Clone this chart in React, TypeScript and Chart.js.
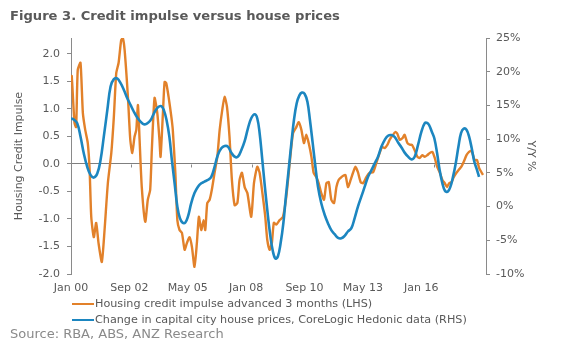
import React, { useEffect, useRef } from 'react';
import { Chart, registerables } from 'chart.js';

Chart.register(...registerables);

const titleText = 'Figure 3. Credit impulse versus house prices';
const sourceText = 'Source: RBA, ABS, ANZ Research';
const leftAxisTitle = 'Housing Credit Impulse';
const rightAxisTitle = 'Y/Y %';
const orangeLabel = 'Housing credit impulse advanced 3 months (LHS)';
const blueLabel = 'Change in capital city house prices, CoreLogic Hedonic data (RHS)';

// months since Jan 2000
const xTickMonths = [0, 32, 64, 96, 128, 160, 192];
const xTickLabels = ['Jan 00', 'Sep 02', 'May 05', 'Jan 08', 'Sep 10', 'May 13', 'Jan 16'];
const zeroTickMonths = [33, 66, 99, 133, 166, 199];
const leftTicks = [-2, -1.5, -1, -0.5, 0, 0.5, 1, 1.5, 2];
const rightTicks = [-10, -5, 0, 5, 10, 15, 20, 25];

const orangeMonths = [0,0.4,1.9,2.8,3.7,5.2,6.5,7.8,9.2,10.2,
  11.1,12.5,13.8,15.1,16.9,18.4,20.2,22.1,23.5,24.8,
  26.1,27.5,28.4,29.4,31.2,32.5,33.6,34.8,35.8,36.7,
  37.6,38.8,40.7,42.1,43.4,44.3,45.8,47.3,48.5,49.1,
  50.4,51.3,52.2,53.5,55,55.8,57.2,58.3,59.5,60.8,
  62.3,63.5,65,66.3,67.7,69,70.1,71.4,72.7,73.6,
  74.7,76,77.2,78.7,80.2,81.5,82.9,84.2,85.5,86.9,
  88.2,89.7,91.2,92.4,93.7,95.2,96.7,98.8,100.3,102.1,
  103.4,105.2,106.5,107.6,108.9,110.1,111.2,112.6,114.4,116.2,
  118,119.9,121.7,123.5,124.8,126.3,127.7,129,130.3,131.8,
  133,134.5,135.8,137.2,138.7,140,141.3,142.7,144.2,145.5,
  146.7,148.2,150.4,151.8,153.3,154.6,155.9,157.3,158.8,160.1,
  161.9,163.7,165.6,167.4,168.8,170.5,172,173.5,174.7,176.5,
  177.8,178.9,180.2,181.7,182.9,184.4,185.7,186.9,188.4,189.9,
  191.2,192.6,193.9,195.3,196.7,198.1,199.4,200.7,202.2,203.6,
  204.9,206.1,207.3,208.6,209.8,211.3,212.7,214,215.3,216.8,
  218.2,219.5,220.4,221.3,222.6,223.7,225,225.9];
const orangeValues = [1.53,1.6,0.75,0.67,1.71,1.84,0.93,0.62,0.38,-0.1,
  -0.96,-1.33,-1.07,-1.44,-1.78,-1.2,-0.35,0.2,0.86,1.65,
  1.84,2.25,2.29,2.07,1.22,0.44,0.2,0.49,0.62,1.07,
  0.44,-0.42,-1.05,-0.65,-0.47,0.25,1.2,0.93,0.44,0.13,
  0.93,1.49,1.47,1.22,0.86,0.62,-0.16,-1.02,-1.2,-1.25,
  -1.56,-1.44,-1.33,-1.51,-1.87,-1.44,-0.96,-1.2,-1.02,-1.2,
  -0.71,-0.65,-0.47,-0.16,0.13,0.62,0.98,1.22,1.04,0.49,
  -0.29,-0.75,-0.71,-0.29,-0.16,-0.42,-0.53,-0.96,-0.35,-0.05,
  -0.16,-0.6,-0.96,-1.38,-1.56,-1.44,-1.07,-1.1,-1.02,-0.96,
  -0.6,0.02,0.56,0.67,0.76,0.62,0.38,0.53,0.38,0.13,
  -0.16,-0.24,-0.35,-0.53,-0.65,-0.35,-0.33,-0.65,-0.71,-0.42,
  -0.29,-0.24,-0.2,-0.42,-0.29,-0.16,-0.05,-0.15,-0.33,-0.35,
  -0.24,-0.16,-0.15,0.02,0.16,0.31,0.29,0.35,0.44,0.53,
  0.58,0.55,0.44,0.47,0.53,0.38,0.35,0.35,0.25,0.13,
  0.11,0.16,0.13,0.16,0.2,0.22,0.11,-0.05,-0.16,-0.29,
  -0.35,-0.42,-0.35,-0.33,-0.24,-0.16,-0.1,-0.05,0.04,0.16,
  0.22,0.24,0.16,0.07,0.07,-0.07,-0.15,-0.2];

const blueMonths = [0,1.5,3.4,5.2,7,8.9,10.7,12.5,14.4,16.2,
  18,19.9,21.7,23.5,25.3,27.2,29,30.8,32.6,34.4,
  36.3,38.1,39.9,41.8,43.6,45.4,47.6,49.5,50.9,52.4,
  53.9,55.3,56.8,58.3,59.7,61.2,62.6,64.1,65.9,67.7,
  69.6,71.4,73.2,75,76.9,78.7,80.5,82.4,84.2,86,
  87.9,89.7,91.5,93.4,95.2,97,98.8,100.7,102.1,103.4,
  104.7,106.1,107.6,109.1,110.5,112,113.4,114.9,116.4,117.8,
  119.3,120.8,122.2,123.7,125.2,126.6,128.1,129.6,131,132.5,
  134,135.4,137.2,139.1,140.9,142.7,144.5,146.4,148.2,150,
  151.8,153.7,155.5,157.3,159.2,161,162.8,164.7,166.5,168.3,
  170.2,172,173.8,175.6,177.5,179.3,181.1,182.9,184.8,186.6,
  188.4,190.2,192.1,193.9,195.3,196.3,197.8,199.2,200.7,202.1,
  203.6,205,206.5,208,209.4,210.9,212.4,213.8,215.3,216.8,
  218.2,219.7,221.1,222.6,223.7];
const blueValues = [13.1,12.9,12.35,10.4,7.9,5.9,4.7,4.3,4.9,6.9,
  10.4,14.3,17.8,18.9,19.0,18.3,17.3,16.1,15.1,14.1,
  13.2,12.6,12.2,12.35,12.8,13.8,14.7,14.9,14.3,12.8,
  10.4,6.9,3.45,0,-1.7,-2.4,-2.4,-1.5,0.5,2.0,
  2.95,3.45,3.7,3.95,4.4,5.9,7.65,8.64,8.98,8.9,
  8.0,7.4,7.4,8.4,9.7,11.6,13.1,13.7,13.1,10.9,
  7.4,3.45,-0.5,-4.0,-6.4,-7.7,-7.4,-5.45,-2.5,1.5,
  5.4,9.4,12.8,15.3,16.5,16.9,16.7,15.55,12.8,9.4,
  5.9,2.95,0.5,-1.25,-2.5,-3.5,-4.1,-4.65,-4.7,-4.35,
  -3.7,-3.2,-1.7,0,1.5,2.95,4.4,5.4,6.4,7.4,
  8.9,9.9,10.5,10.6,10.3,9.5,8.8,8.0,7.4,7.0,
  7.4,9.1,11.1,12.35,12.4,12.1,11.1,10.1,7.9,5.4,
  3.45,2.35,2.2,2.95,4.4,6.4,8.9,10.9,11.55,11.4,
  10.4,8.6,6.65,5.4,4.4];

const ORANGE = '#E2812A';
const BLUE = '#1C86C0';
const TEXT = '#595959';
const AXIS = '#8a8a8a';
const FONT = "'DejaVu Sans', Verdana, sans-serif";

const zeroTicksPlugin = {
  id: 'zeroTicks',
  beforeDatasetsDraw(chart: any) {
    const { ctx, scales } = chart;
    const x = scales.x;
    const yL = scales.yL;
    const y0 = Math.round(yL.getPixelForValue(0)) + 0.5;
    ctx.save();
    ctx.strokeStyle = AXIS;
    ctx.lineWidth = 1;
    zeroTickMonths.forEach((m) => {
      const px = Math.round(x.getPixelForValue(m)) + 0.5;
      ctx.beginPath();
      ctx.moveTo(px, y0);
      ctx.lineTo(px, y0 + 3);
      ctx.stroke();
    });
    ctx.restore();
  },
};

export default function App() {
  const ref = useRef<HTMLCanvasElement>(null);

  useEffect(() => {
    if (!ref.current) return;
    const chart = new Chart(ref.current, {
      type: 'line',
      data: {
        datasets: [
          {
            label: blueLabel,
            data: blueMonths.map((m, i) => ({ x: m, y: blueValues[i] })),
            yAxisID: 'yR',
            borderColor: BLUE,
            borderWidth: 2.6,
            pointRadius: 0,
            tension: 0.4,
            order: 0,
          },
          {
            label: orangeLabel,
            data: orangeMonths.map((m, i) => ({ x: m, y: orangeValues[i] })),
            yAxisID: 'yL',
            borderColor: ORANGE,
            borderWidth: 2.4,
            pointRadius: 0,
            tension: 0.2,
            order: 1,
          },
        ],
      },
      options: {
        responsive: false,
        animation: false,
        layout: { padding: { top: 38, left: 0, right: 0, bottom: 0 } },
        plugins: { legend: { display: false }, title: { display: false }, tooltip: { enabled: false } },
        scales: {
          x: {
            type: 'linear',
            min: 0,
            max: 227.5,
            border: { display: false },
            grid: { display: false, drawTicks: false },
            afterBuildTicks: (s: any) => { s.ticks = xTickMonths.map((v) => ({ value: v })); },
            afterFit: (s: any) => { s.height = 78; },
            ticks: {
              autoSkip: false,
              maxRotation: 0,
              padding: 8,
              color: TEXT,
              font: { family: FONT, size: 11 },
              callback: (v: any) => {
                const i = xTickMonths.indexOf(Number(v));
                return i >= 0 ? xTickLabels[i] : '';
              },
            },
          },
          yL: {
            type: 'linear',
            position: 'left',
            min: -2,
            max: 2.29,
            border: { display: true, color: AXIS, width: 1 },
            grid: {
              drawOnChartArea: true,
              drawTicks: true,
              tickLength: 4,
              tickColor: AXIS,
              color: (c: any) => (c.tick && c.tick.value === 0 ? '#7f7f7f' : 'rgba(0,0,0,0)'),
            },
            afterBuildTicks: (s: any) => { s.ticks = leftTicks.map((v) => ({ value: v })); },
            afterFit: (s: any) => { s.width = 71; },
            ticks: {
              padding: 7,
              color: TEXT,
              font: { family: FONT, size: 11 },
              callback: (v: any) => Number(v).toFixed(1),
            },
            title: {
              display: true,
              text: leftAxisTitle,
              color: TEXT,
              font: { family: FONT, size: 11 },
              padding: { top: 13, bottom: 0 },
            },
          },
          yR: {
            type: 'linear',
            position: 'right',
            min: -10,
            max: 25,
            border: { display: true, color: AXIS, width: 1 },
            grid: { drawOnChartArea: false, drawTicks: true, tickLength: 4, color: AXIS },
            afterBuildTicks: (s: any) => { s.ticks = rightTicks.map((v) => ({ value: v })); },
            afterFit: (s: any) => { s.width = 94; },
            ticks: {
              padding: 6,
              color: TEXT,
              font: { family: FONT, size: 11 },
              callback: (v: any) => `${v}%`,
            },
            title: {
              display: true,
              text: rightAxisTitle,
              color: TEXT,
              font: { family: FONT, size: 11 },
              padding: { top: 43, bottom: 0 },
            },
          },
        },
      },
      plugins: [zeroTicksPlugin],
    } as any);
    return () => chart.destroy();
  }, []);

  const swatch = (color: string) => (
    <span style={{ display: 'inline-block', width: 22, height: 0, borderTop: `2.5px solid ${color}`, verticalAlign: 'middle', marginRight: 1 }} />
  );

  return (
    <div style={{ position: 'absolute', left: 0, top: 0, width: 580, height: 352, background: '#fff', fontFamily: FONT, overflow: 'hidden' }}>
      <canvas ref={ref} width={580} height={352} style={{ position: 'absolute', left: 0, top: 0 }} />
      <div style={{ position: 'absolute', left: 10, top: 8, fontSize: 13.1, fontWeight: 'bold', color: TEXT, whiteSpace: 'nowrap' }}>{titleText}</div>
      <div style={{ position: 'absolute', left: 72, top: 296, fontSize: 11.2, color: TEXT, whiteSpace: 'nowrap', lineHeight: '16px' }}>
        <div>{swatch(ORANGE)}<span style={{ verticalAlign: 'middle' }}>{orangeLabel}</span></div>
        <div>{swatch(BLUE)}<span style={{ verticalAlign: 'middle' }}>{blueLabel}</span></div>
      </div>
      <div style={{ position: 'absolute', left: 10, top: 326, fontSize: 13, color: '#8a8a8a', whiteSpace: 'nowrap' }}>{sourceText}</div>
    </div>
  );
}
